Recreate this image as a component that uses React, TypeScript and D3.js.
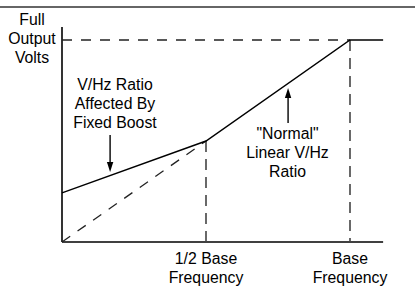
import React from "react";
import * as d3 from "d3";

const W = 415;
const H = 291;

// data (x in fraction of base frequency, y in fraction of full output volts)
const boostX = [0, 0.5, 1, 1.115];
const boostY = [0.243, 0.5, 1, 1];
const linearX = [0, 0.5];
const linearY = [0, 0.5];
const tickValues = [0.5, 1];
const tickLine1 = ["1/2 Base", "Base"];
const tickLine2 = ["Frequency", "Frequency"];
const yLabel = ["Full", "Output", "Volts"];
const note1 = ["V/Hz Ratio", "Affected By", "Fixed Boost"];
const note2 = ['"Normal"', "Linear V/Hz", "Ratio"];
const arrow1 = { x: 0.167, from: 0.53, to: 0.347 };
const arrow2 = { x: 0.785, from: 0.589, to: 0.762 };

const x = d3.scaleLinear().domain([0, 1]).range([62, 350]);
const y = d3.scaleLinear().domain([0, 1]).range([242, 40]);
const xMax = 1.115;
const yMax = 1.064;

const font = "'Liberation Sans', Arial, Helvetica, sans-serif";
const fs = 15.8;

function Arrow({ ax, from, to }: { ax: number; from: number; to: number }) {
  const px = x(ax);
  const y0 = y(from);
  const y1 = y(to);
  const dir = y1 > y0 ? 1 : -1;
  const len = 10;
  const hw = 3.2;
  const base = y1 - dir * len;
  return (
    <g>
      <line x1={px} y1={y0} x2={px} y2={base} stroke="#000" strokeWidth={1.4} />
      <path d={`M${px - hw},${base}L${px + hw},${base}L${px},${y1}Z`} fill="#000" />
    </g>
  );
}

export default function App() {
  const line = d3.line<number>().x((_, i) => x(boostX[i])).y((d) => y(d));
  const lin = d3.line<number>().x((_, i) => x(linearX[i])).y((d) => y(d));
  return (
    <svg width={W} height={H} style={{ position: "absolute", left: 0, top: 0 }} fontFamily={font}>
      <rect width={W} height={H} fill="#fff" />
      <line x1={0} x2={W} y1={7} y2={7} stroke="#333" strokeWidth={1.4} />
      {/* axes */}
      <line x1={x(0)} x2={x(0)} y1={y(yMax)} y2={y(0)} stroke="#000" strokeWidth={1.6} />
      <line x1={x(0)} x2={x(xMax)} y1={y(0)} y2={y(0)} stroke="#000" strokeWidth={1.6} />
      {/* full volts dashed */}
      <line x1={x(0)} x2={x(1)} y1={y(1)} y2={y(1)} stroke="#222" strokeWidth={1.3} strokeDasharray="10,9" />
      {/* verticals */}
      {tickValues.map((t, i) => (
        <line key={i} x1={x(t)} x2={x(t)} y1={y(t === 1 ? 1 : 0.5)} y2={y(0)} stroke="#444" strokeWidth={1.6} strokeDasharray="11,7" />
      ))}
      <path d={lin(linearY) || ""} fill="none" stroke="#222" strokeWidth={1.3} strokeDasharray="10,9" />
      <path d={line(boostY) || ""} fill="none" stroke="#000" strokeWidth={1.4} />
      <Arrow ax={arrow1.x} from={arrow1.from} to={arrow1.to} />
      <Arrow ax={arrow2.x} from={arrow2.from} to={arrow2.to} />
      <g fontSize={fs} fill="#000" textAnchor="middle">
        {yLabel.map((t, i) => (
          <text key={i} x={32} y={25 + i * 19}>{t}</text>
        ))}
        {note1.map((t, i) => (
          <text key={i} x={115} y={90 + i * 19}>{t}</text>
        ))}
        {note2.map((t, i) => (
          <text key={i} x={287.5} y={139 + i * 19}>{t}</text>
        ))}
        {tickValues.map((t, i) => (
          <g key={i}>
            <text x={x(t)} y={264}>{tickLine1[i]}</text>
            <text x={x(t)} y={283}>{tickLine2[i]}</text>
          </g>
        ))}
      </g>
    </svg>
  );
}
